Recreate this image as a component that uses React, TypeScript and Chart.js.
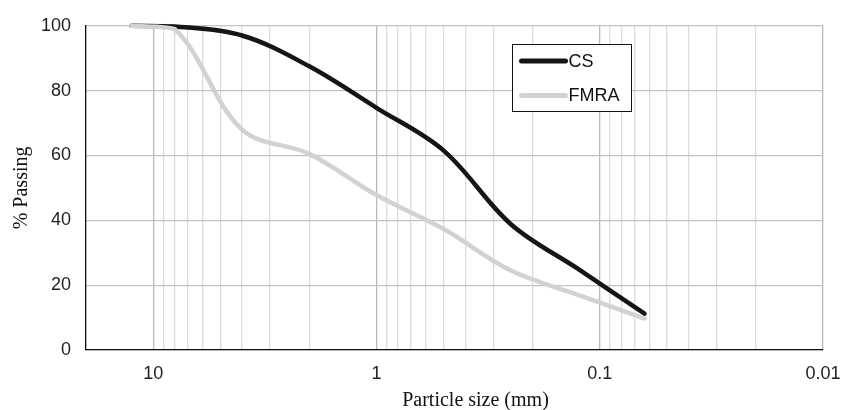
import React, { useEffect, useRef } from "react";
import { Chart, registerables } from "chart.js";

Chart.register(...registerables);

// Sieve sizes (mm) and % passing
const particleSizes = [12.5, 8, 4, 2, 1, 0.5, 0.25, 0.125, 0.063];
const csPassing = [100, 99.8, 97, 87.5, 74.7, 61.5, 38.8, 25, 11.2];
const fmraPassing = [100, 99, 68, 60.5, 47.8, 37.3, 24.5, 17, 9.7];

const seriesLabels = ["CS", "FMRA"];
const seriesColors = ["#151515", "#d2d2d2"];

const xMajorTicks = [10, 1, 0.1, 0.01];
const xMin = 0.01;
const xMax = 20;
const yTicks = [0, 20, 40, 60, 80, 100];

const xTitle = "Particle size (mm)";
const yTitle = "% Passing";

const sansFont = "'Liberation Sans', Arial, sans-serif";
const serifFont = "'Liberation Serif', 'Times New Roman', serif";

function isPow10(v: number) {
  const l = Math.log10(v);
  return Math.abs(l - Math.round(l)) < 1e-9;
}

const overlayPlugin = {
  id: "overlay",
  afterDraw(chart: any) {
    const { ctx, chartArea } = chart;
    ctx.save();
    // axis titles
    ctx.fillStyle = "#111";
    ctx.font = `20px ${serifFont}`;
    ctx.textAlign = "center";
    ctx.textBaseline = "alphabetic";
    ctx.fillText(xTitle, (chartArea.left + chartArea.right) / 2 + 21, chartArea.bottom + 56);
    ctx.translate(22, (chartArea.top + chartArea.bottom) / 2);
    ctx.rotate(-Math.PI / 2);
    ctx.textBaseline = "middle";
    ctx.fillText(yTitle, 0, 0);
    ctx.restore();

    // legend box
    ctx.save();
    const bx = 512.5, by = 44.5, bw = 119, bh = 67;
    ctx.fillStyle = "#fff";
    ctx.fillRect(bx, by, bw, bh);
    ctx.strokeStyle = "#111";
    ctx.lineWidth = 1;
    ctx.strokeRect(bx, by, bw, bh);
    ctx.font = `18px ${sansFont}`;
    ctx.textAlign = "left";
    ctx.textBaseline = "middle";
    chart.data.datasets.forEach((ds: any, i: number) => {
      const y = by + 16.5 + i * 34.5;
      ctx.strokeStyle = ds.borderColor;
      ctx.lineWidth = 5;
      ctx.lineCap = "round";
      ctx.beginPath();
      ctx.moveTo(bx + 9, y);
      ctx.lineTo(bx + 53, y);
      ctx.stroke();
      ctx.fillStyle = "#111";
      ctx.fillText(ds.label, bx + 56, y + 1);
    });
    ctx.restore();
  },
};

export default function App() {
  const canvasRef = useRef<HTMLCanvasElement | null>(null);

  useEffect(() => {
    if (!canvasRef.current) return;
    const makeData = (vals: number[]) => particleSizes.map((x, i) => ({ x, y: vals[i] }));
    const chart = new Chart(canvasRef.current, {
      type: "line",
      data: {
        datasets: [
          {
            label: seriesLabels[0],
            data: makeData(csPassing),
            borderColor: seriesColors[0],
            backgroundColor: seriesColors[0],
            borderWidth: 4.5,
            borderCapStyle: "round",
            pointRadius: 0,
            tension: 0.35,
            clip: 8,
            order: 1,
          },
          {
            label: seriesLabels[1],
            data: makeData(fmraPassing),
            borderColor: seriesColors[1],
            backgroundColor: seriesColors[1],
            borderWidth: 4.5,
            borderCapStyle: "round",
            pointRadius: 0,
            tension: 0.35,
            clip: 8,
            order: 0,
          },
        ],
      },
      options: {
        animation: false,
        responsive: false,
        devicePixelRatio: 1,
        layout: { padding: { top: 22, right: 31, left: 0, bottom: 0 } },
        plugins: {
          legend: { display: false },
          tooltip: { enabled: false },
        },
        scales: {
          x: {
            type: "logarithmic",
            min: xMin,
            max: xMax,
            reverse: true,
            afterBuildTicks: (scale: any) => {
              const ticks: any[] = [];
              xMajorTicks.forEach((m) => {
                for (let k = 1; k <= 9; k++) {
                  const v = m * k;
                  if (v >= xMin - 1e-12 && v <= xMax + 1e-9) ticks.push({ value: v });
                }
              });
              scale.ticks = ticks;
            },
            afterFit: (scale: any) => {
              scale.height = 60;
            },
            ticks: {
              autoSkip: false,
              maxRotation: 0,
              padding: 13,
              color: "#222",
              font: { family: sansFont, size: 18 },
              callback: (v: any) => {
                const n = Number(v);
                return xMajorTicks.some((m) => Math.abs(m - n) < 1e-12) ? String(n) : "";
              },
            },
            grid: {
              drawTicks: false,
              lineWidth: 1.3,
              color: (c: any) => (c.tick && isPow10(c.tick.value) ? "#b9b9b9" : "#dcdcdc"),
            },
            border: { color: "#111", width: 1.3 },
          },
          y: {
            min: 0,
            max: 100,
            afterBuildTicks: (scale: any) => {
              scale.ticks = yTicks.map((v) => ({ value: v }));
            },
            afterFit: (scale: any) => {
              scale.width = 86;
            },
            ticks: {
              padding: 15,
              color: "#222",
              font: { family: sansFont, size: 18 },
            },
            grid: {
              drawTicks: false,
              lineWidth: 1.3,
              color: "#c3c3c3",
            },
            border: { color: "#111", width: 1.3 },
          },
        },
      },
      plugins: [overlayPlugin],
    } as any);
    return () => chart.destroy();
  }, []);

  return (
    <div style={{ position: "fixed", left: 0, top: 0, width: 854, height: 410, background: "#fff" }}>
      <canvas ref={canvasRef} width={854} height={410} style={{ display: "block" }} />
    </div>
  );
}
